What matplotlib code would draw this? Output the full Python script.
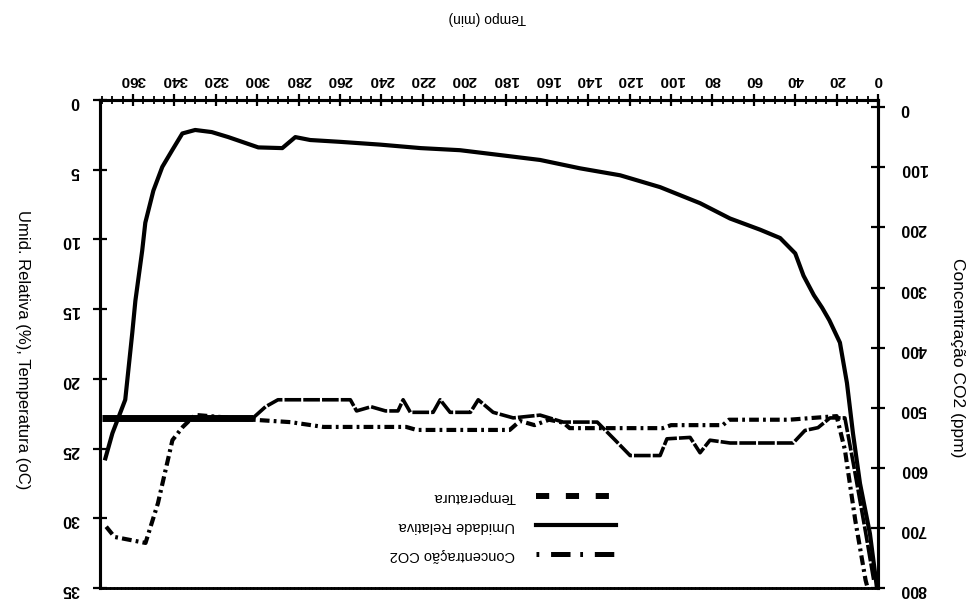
import matplotlib
matplotlib.use("Agg")
import matplotlib.pyplot as plt
from matplotlib.lines import Line2D
from matplotlib.ticker import MultipleLocator

plt.rcParams['font.family'] = ['Liberation Sans', 'DejaVu Sans']
plt.rcParams['lines.scale_dashes'] = False

# ---------------- data ----------------
# Umidade Relativa (%) - left axis
time_umid = [373.4, 370, 363.8, 360.4, 358.9, 355.6, 354.1, 350.2, 345.9, 341.1, 336.2,
             330, 322, 314, 299.5, 287.9, 281.6, 274.4, 260, 240.6, 221, 202, 182.6,
             163.3, 144, 124.6, 105.3, 86, 71.5, 57, 47.3, 40, 36, 31, 27, 23.5,
             18.4, 15, 12.1, 8.7, 3.9, 0.5]
umid = [25.7, 23.9, 21.5, 16.7, 14.4, 10.8, 8.8, 6.5, 4.8, 3.6, 2.4,
        2.15, 2.3, 2.66, 3.4, 3.45, 2.66, 2.87, 3.0, 3.2, 3.45, 3.6, 3.95,
        4.3, 4.9, 5.4, 6.25, 7.4, 8.5, 9.3, 9.9, 11.0, 12.6, 14.0, 14.9, 15.8,
        17.4, 20.3, 23.9, 27.5, 31.1, 35.0]

# Temperatura (oC) - left axis
time_temp = [375, 302, 296, 290, 255, 252, 245, 238, 232, 229.5, 226, 215, 211.6,
             206.8, 197, 193.2, 186, 176.3, 163.3, 152.2, 135.7, 127, 119.8, 105.3,
             102, 90.8, 86, 81.2, 71.5, 41, 35.3, 29, 23.2, 16, 12, 6, 2]
temp = [22.8, 22.8, 22.0, 21.5, 21.5, 22.3, 22.0, 22.3, 22.3, 21.5, 22.4, 22.4, 21.5,
        22.4, 22.4, 21.5, 22.4, 22.8, 22.6, 23.1, 23.1, 24.4, 25.5, 25.5,
        24.3, 24.2, 25.3, 24.4, 24.6, 24.6, 23.7, 23.5, 22.8, 22.8, 26.0, 31.0, 34.5]

# Concentracao CO2 (ppm) - right axis
time_co2 = [373, 369, 354, 348, 344, 341, 336, 330, 302, 284, 268, 228, 223, 178, 173,
            166, 159, 152, 149, 104, 100, 75, 72, 43, 20, 16, 11, 6, 5]
co2 = [698, 715, 725, 659, 599, 554, 532, 512, 520, 524, 532, 532, 537, 537, 522,
       529, 520, 525, 534, 534, 529, 529, 520, 520, 514, 570, 687, 787, 800]

x_ticks = list(range(0, 361, 20))
left_ticks = list(range(0, 36, 5))
right_ticks = list(range(0, 801, 100))
labels = ['Temperatura', 'Umidade Relativa', 'Concentração CO2']

# ---------------- figure ----------------
fig = plt.figure(figsize=(9.75, 6.09), dpi=100)
ax = fig.add_axes([0.10256, 0.03448, 0.79795, 0.80131])
ax2 = ax.twinx()

ax.set_xlim(376, 0)
ax.set_ylim(35, 0)
ax2.set_ylim(800, -12)

# lines
ax.plot(time_umid, umid, color='black', lw=3)
n_flat = 2
ax.plot(time_temp[:n_flat], temp[:n_flat], color='black', lw=5, solid_capstyle='butt')
ax.plot(time_temp[n_flat - 1:], temp[n_flat - 1:], color='black', lw=2.6, dashes=(12, 1.5))
ax2.plot(time_co2, co2, color='black', lw=3, dashes=(7, 3, 2, 3))

# x axis on top (picture is upside-down)
ax.xaxis.tick_top()
ax.set_xticks(x_ticks)
ax.xaxis.set_minor_locator(MultipleLocator(5))
ax.tick_params(axis='x', which='major', direction='inout', length=9, width=1.6,
               pad=5, labelsize=11, labelrotation=180)
ax.tick_params(axis='x', which='minor', direction='inout', length=6, width=1.3)

ax.set_yticks(left_ticks)
ax.tick_params(axis='y', direction='inout', length=10, width=1.6, pad=10,
               labelsize=11.5, labelrotation=180)
ax2.set_yticks(right_ticks)
ax2.tick_params(axis='y', direction='inout', length=10, width=1.6, pad=11,
                labelsize=11.5, labelrotation=180)

for lbl in ax.get_xticklabels() + ax.get_yticklabels() + ax2.get_yticklabels():
    lbl.set_fontweight('bold')

for a in (ax, ax2):
    for s in ('left', 'right', 'top'):
        a.spines[s].set_linewidth(2.2)
    a.spines['bottom'].set_linestyle(':')
    a.spines['bottom'].set_linewidth(1.8)

# axis titles (rotated like the picture)
fig.text(0.5, 1 - 18 / 609, 'Tempo (min)', rotation=180, ha='center', va='center', fontsize=10)
fig.text(22 / 975, 1 - 350 / 609, 'Umid. Relativa (%), Temperatura (oC)', rotation=270,
         ha='center', va='center', fontsize=12)
fig.text(958 / 975, 1 - 358 / 609, 'Concentração CO2 (ppm)', rotation=270,
         ha='center', va='center', fontsize=12.5)

# legend (proxies reproduce the legend samples)
h_temp = Line2D([], [], color='black', lw=4.3, dashes=(9.5, 12))
h_umid = Line2D([], [], color='black', lw=3)
h_co2 = Line2D([], [], color='black', lw=3.6, dashes=(2, 8.5, 14, 7))
leg = fig.legend([h_temp, h_umid, h_co2], labels, loc='center',
                 bbox_to_anchor=(0.516, 1 - 526 / 609), frameon=False,
                 markerfirst=False, fontsize=10.5, handlelength=5.5,
                 handletextpad=1.4, labelspacing=1.05)
for t in leg.get_texts():
    t.set_rotation(180)

fig.savefig('out.png', dpi=100)
